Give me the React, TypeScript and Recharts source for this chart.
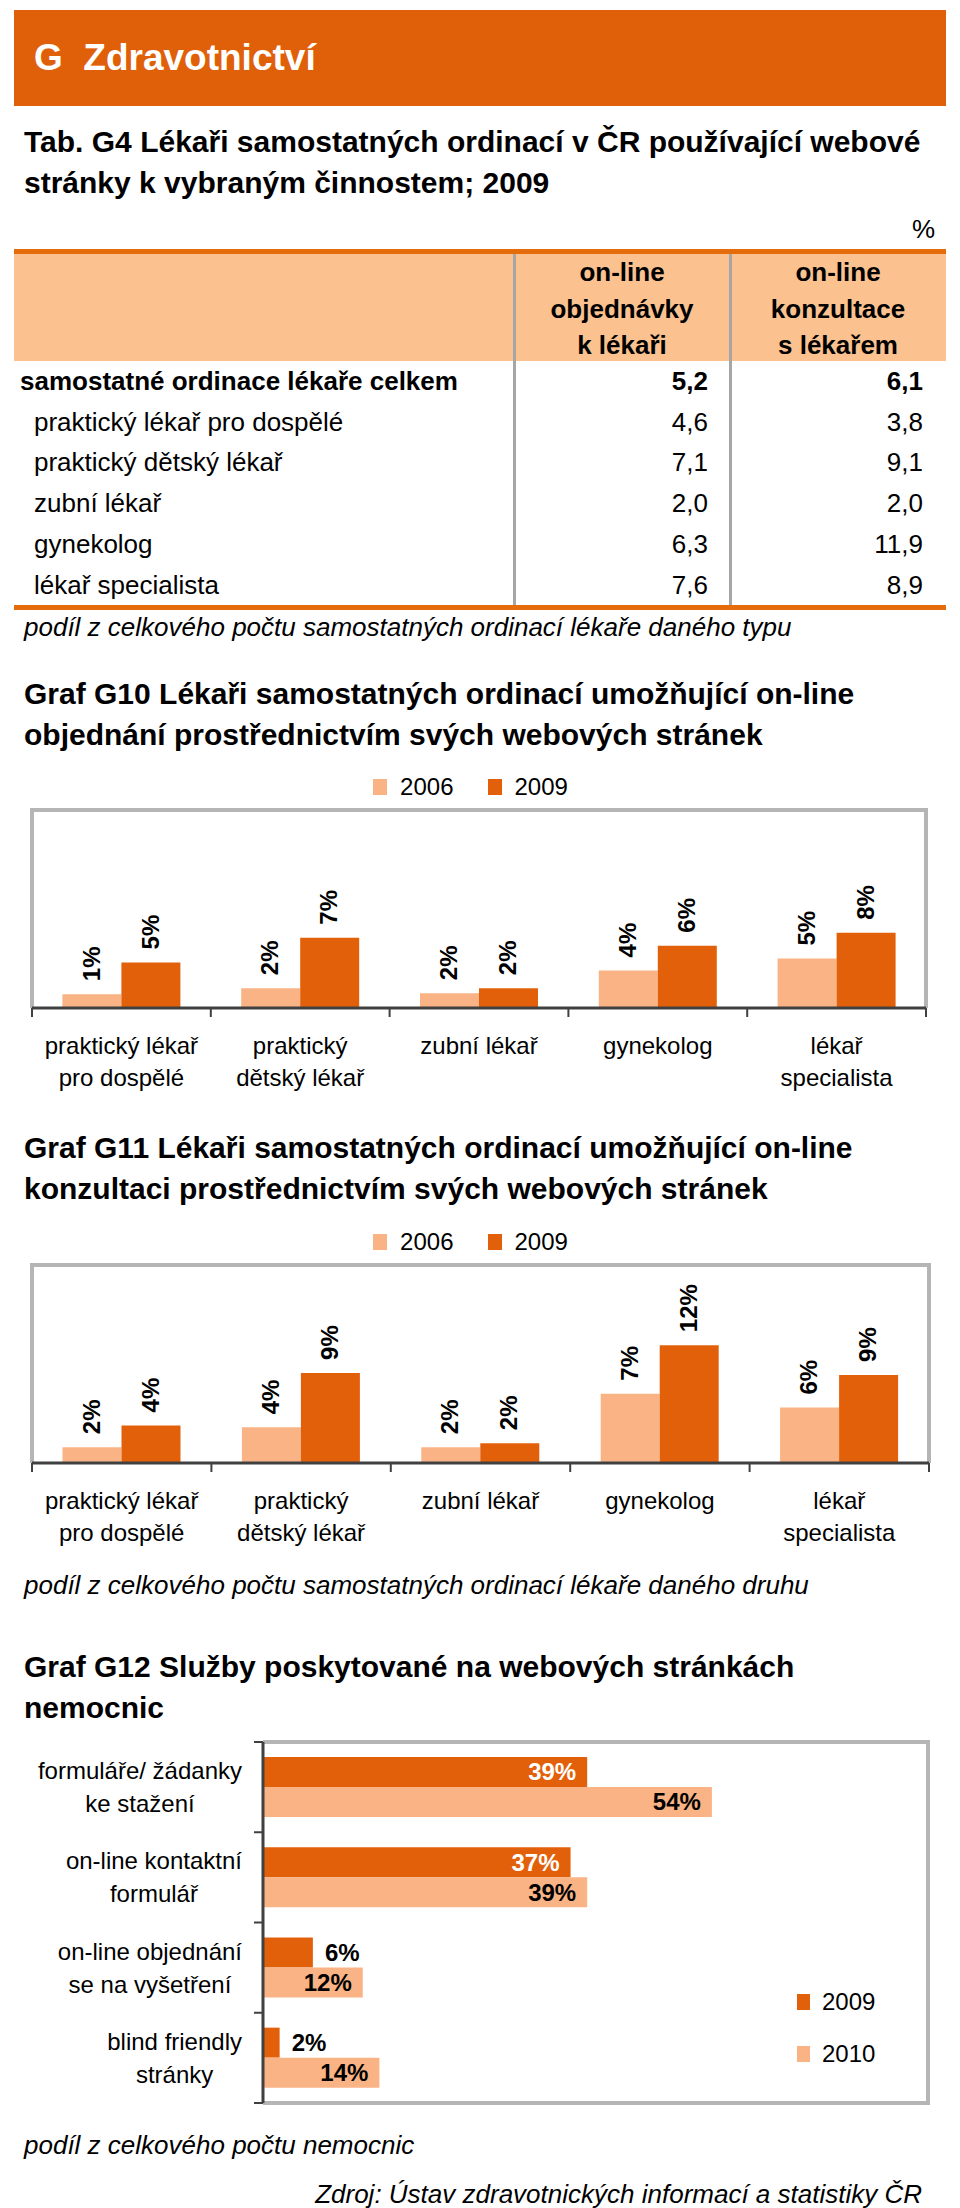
import React from 'react';
import { BarChart, Bar, XAxis, YAxis, LabelList, Legend, ReferenceArea } from 'recharts';

// ---------- data ----------
const tableHeaders = ['on-line\nobjednávky\nk lékaři', 'on-line\nkonzultace\ns lékařem'];
const tableRows = [
  'samostatné ordinace lékaře celkem',
  'praktický lékař pro dospělé',
  'praktický dětský lékař',
  'zubní lékař',
  'gynekolog',
  'lékař specialista',
];
const tableOrders = [5.2, 4.6, 7.1, 2.0, 6.3, 7.6];
const tableConsult = [6.1, 3.8, 9.1, 2.0, 11.9, 8.9];

const doctorCategories = [
  'praktický lékař\npro dospělé',
  'praktický\ndětský lékař',
  'zubní lékař',
  'gynekolog',
  'lékař\nspecialista',
];
const ordering2006 = [1.4, 2.0, 1.5, 3.8, 5.0];
const ordering2009 = [4.6, 7.1, 2.0, 6.3, 7.6];
const consult2006 = [1.6, 3.6, 1.6, 7.0, 5.6];
const consult2009 = [3.8, 9.1, 2.0, 11.9, 8.9];
const doctorSeriesNames = ['2006', '2009'];

const hospitalServices = [
  'formuláře/ žádanky\nke stažení',
  'on-line kontaktní\nformulář',
  'on-line objednání\nse na vyšetření',
  'blind friendly\nstránky',
];
const hospital2009 = [39, 37, 6, 2];
const hospital2010 = [54, 39, 12, 14];
const hospitalSeriesNames = ['2009', '2010'];

// ---------- style ----------
const FONTNAME = '"Liberation Sans", Arial, Helvetica, sans-serif';
const DARK = '#E2600A';
const LIGHT = '#F9B384';
const HEAD_BG = '#E0600A';
const TABLE_ORANGE = '#E46C0A';
const TABLE_PEACH = '#FBC18F';
const GRID_GRAY = '#B5B5B5';
const SEP_GRAY = '#A6A6A6';
const AXIS = '#404040';

let measureCtx: CanvasRenderingContext2D | null = null;
function textWidth(s: string, font: string): number {
  if (!measureCtx && typeof document !== 'undefined') {
    measureCtx = document.createElement('canvas').getContext('2d');
  }
  if (!measureCtx) return s.length * 12;
  measureCtx.font = font;
  return measureCtx.measureText(s).width;
}

const fmt = (v: number) => v.toFixed(1).replace('.', ',');

// ---------- chart helpers ----------
const BorderTopSides = (p: any) => {
  const { x, y, width, height } = p;
  return (
    <path
      d={`M${x},${y + height} L${x},${y} L${x + width},${y} L${x + width},${y + height}`}
      stroke={GRID_GRAY}
      strokeWidth={4}
      fill="none"
    />
  );
};

const BorderNoLeft = (p: any) => {
  const { x, y, width, height } = p;
  return (
    <path
      d={`M${x},${y} L${x + width},${y} L${x + width},${y + height} L${x},${y + height}`}
      stroke={GRID_GRAY}
      strokeWidth={4}
      fill="none"
    />
  );
};

const CatTick = (props: any) => {
  const { x, y, payload, index, band, count } = props;
  const lines = String(payload.value).split('\n');
  const left = x - band / 2;
  return (
    <g>
      <line x1={left} y1={y} x2={left} y2={y + 9} stroke={AXIS} strokeWidth={2} />
      {index === count - 1 && (
        <line x1={x + band / 2} y1={y} x2={x + band / 2} y2={y + 9} stroke={AXIS} strokeWidth={2} />
      )}
      <text x={x} y={y} textAnchor="middle" fontFamily={FONTNAME} fontSize={24} fill="#000">
        {lines.map((l, i) => (
          <tspan key={i} x={x} y={y + 38 + i * 32} dy="0.35em">
            {l}
          </tspan>
        ))}
      </text>
    </g>
  );
};

const RotLabel = (p: any) => {
  const x = p.x ?? p.viewBox?.x;
  const y = p.y ?? p.viewBox?.y;
  const width = p.width ?? p.viewBox?.width;
  const value = Number(p.value);
  const cx = x + width / 2 - 1;
  const cy = y - 13;
  return (
    <text
      x={cx}
      y={cy}
      transform={`rotate(-90, ${cx}, ${cy})`}
      textAnchor="start"
      dy="0.36em"
      fontFamily={FONTNAME}
      fontWeight="bold"
      fontSize={24}
      fill="#000"
    >
      {`${Math.round(value)}%`}
    </text>
  );
};

const HLegend = (props: any) => {
  const items = props.payload || [];
  return (
    <div
      style={{
        display: 'flex',
        justifyContent: 'center',
        alignItems: 'center',
        fontFamily: FONTNAME,
        fontSize: 24,
        color: '#000',
        height: 28,
      }}
    >
      {items.map((it: any, i: number) => (
        <div key={i} style={{ display: 'flex', alignItems: 'center', marginLeft: i ? 34 : 0 }}>
          <span style={{ width: 14, height: 16, background: it.color, display: 'inline-block', marginRight: 13 }} />
          <span>{it.value}</span>
        </div>
      ))}
    </div>
  );
};

const VLegend = (props: any) => {
  const items = props.payload || [];
  return (
    <div style={{ fontFamily: FONTNAME, fontSize: 24, color: '#000' }}>
      {items.map((it: any, i: number) => (
        <div key={i} style={{ display: 'flex', alignItems: 'center', height: 28, marginBottom: i === 0 ? 24 : 0 }}>
          <span style={{ width: 13, height: 16, background: it.color, display: 'inline-block', marginRight: 12 }} />
          <span>{it.value}</span>
        </div>
      ))}
    </div>
  );
};

interface ColumnChartProps {
  top: number;
  plotTop: number;
  plotBottom: number;
  plotRight: number;
  legendY: number;
  v2006: number[];
  v2009: number[];
}

const CHART_W = 960;
const COL_LEFT = 32;

const ColumnChart = ({ top, plotTop, plotBottom, plotRight, legendY, v2006, v2009 }: ColumnChartProps) => {
  const height = plotBottom - top + 95;
  const data = doctorCategories.map((name, i) => ({ name, a: v2006[i], b: v2009[i] }));
  const right = CHART_W - plotRight;
  const band = (CHART_W - COL_LEFT - right) / doctorCategories.length;
  return (
    <div style={{ position: 'absolute', left: 0, top, width: CHART_W, height }}>
      <BarChart
        width={CHART_W}
        height={height}
        data={data}
        margin={{ top: plotTop - top, right, left: COL_LEFT, bottom: 0 }}
        barCategoryGap="17%"
        barGap={0}
      >
        <XAxis
          dataKey="name"
          height={95}
          interval={0}
          tickSize={0}
          tickMargin={0}
          axisLine={{ stroke: AXIS, strokeWidth: 3 }}
          tickLine={false}
          tick={(p: any) => <CatTick {...p} band={band} count={doctorCategories.length} />}
        />
        <YAxis hide domain={[0, 20]} />
        <ReferenceArea y1={0} y2={20} shape={BorderTopSides} ifOverflow="visible" />
        <Legend
          layout="vertical"
          verticalAlign="middle"
          align="center"
          content={HLegend}
          wrapperStyle={{ top: legendY - top - 14, left: 0, width: 941 }}
        />
        <Bar dataKey="a" name={doctorSeriesNames[0]} fill={LIGHT} isAnimationActive={false}>
          <LabelList dataKey="a" content={RotLabel} />
        </Bar>
        <Bar dataKey="b" name={doctorSeriesNames[1]} fill={DARK} isAnimationActive={false}>
          <LabelList dataKey="b" content={RotLabel} />
        </Bar>
      </BarChart>
    </div>
  );
};

// ---------- hospital chart ----------
const H_TOP = 1720;
const H_HEIGHT = 400;
const H_MT = 22;
const H_MB = 17;
const H_AXIS_X = 263;
const H_RIGHT = 928;
const H_MAX = 80;
const H_BAND = (H_HEIGHT - H_MT - H_MB) / hospitalServices.length;

const HospTick = (props: any) => {
  const { x, y, payload, index } = props;
  const lines = String(payload.value).split('\n');
  const font = `24px ${FONTNAME}`;
  const maxW = Math.max(...lines.map((l) => textWidth(l, font)));
  const right = x - 21;
  const cx = right - maxW / 2;
  return (
    <g>
      <line x1={x - 9} y1={y - H_BAND / 2} x2={x} y2={y - H_BAND / 2} stroke={AXIS} strokeWidth={2} />
      {index === hospitalServices.length - 1 && (
        <line x1={x - 9} y1={y + H_BAND / 2} x2={x} y2={y + H_BAND / 2} stroke={AXIS} strokeWidth={2} />
      )}
      <text x={cx} y={y} textAnchor="middle" fontFamily={FONTNAME} fontSize={24} fill="#000">
        {lines.map((l, i) => (
          <tspan key={i} x={cx} y={y + (i - (lines.length - 1) / 2) * 33} dy="0.35em">
            {l}
          </tspan>
        ))}
      </text>
    </g>
  );
};

const Label2009 = (p: any) => {
  const x = p.x ?? p.viewBox?.x;
  const y = p.y ?? p.viewBox?.y;
  const width = p.width ?? p.viewBox?.width;
  const height = p.height ?? p.viewBox?.height;
  const txt = `${p.value}%`;
  const w = textWidth(txt, `bold 24px ${FONTNAME}`);
  const inside = width > w + 24;
  return (
    <text
      x={inside ? x + width - 11 : x + width + 12}
      y={y + height / 2}
      dy="0.35em"
      textAnchor={inside ? 'end' : 'start'}
      fill={inside ? '#fff' : '#000'}
      fontWeight="bold"
      fontSize={24}
      fontFamily={FONTNAME}
    >
      {txt}
    </text>
  );
};

const Label2010 = (p: any) => {
  const x = p.x ?? p.viewBox?.x;
  const y = p.y ?? p.viewBox?.y;
  const width = p.width ?? p.viewBox?.width;
  const height = p.height ?? p.viewBox?.height;
  return (
    <text
      x={x + width - 11}
      y={y + height / 2}
      dy="0.35em"
      textAnchor="end"
      fill="#000"
      fontWeight="bold"
      fontSize={24}
      fontFamily={FONTNAME}
    >
      {`${p.value}%`}
    </text>
  );
};

const HospitalChart = () => {
  const data = hospitalServices.map((name, i) => ({ name, a: hospital2009[i], b: hospital2010[i] }));
  return (
    <div style={{ position: 'absolute', left: 0, top: H_TOP, width: CHART_W, height: H_HEIGHT }}>
      <BarChart
        layout="vertical"
        width={CHART_W}
        height={H_HEIGHT}
        data={data}
        margin={{ top: H_MT, right: CHART_W - H_RIGHT, left: 0, bottom: H_MB }}
        barCategoryGap="16.5%"
        barGap={0}
      >
        <XAxis type="number" hide domain={[0, H_MAX]} />
        <YAxis
          type="category"
          dataKey="name"
          width={H_AXIS_X}
          interval={0}
          tickSize={0}
          tickMargin={0}
          axisLine={{ stroke: AXIS, strokeWidth: 3 }}
          tickLine={false}
          tick={HospTick}
        />
        <ReferenceArea x1={0} x2={H_MAX} shape={BorderNoLeft} ifOverflow="visible" />
        <Legend
          layout="vertical"
          verticalAlign="middle"
          align="center"
          content={VLegend}
          wrapperStyle={{ top: 2002 - H_TOP - 14, left: 797, width: 120 }}
        />
        <Bar dataKey="a" name={hospitalSeriesNames[0]} fill={DARK} isAnimationActive={false}>
          <LabelList dataKey="a" content={Label2009} />
        </Bar>
        <Bar dataKey="b" name={hospitalSeriesNames[1]} fill={LIGHT} isAnimationActive={false}>
          <LabelList dataKey="b" content={Label2010} />
        </Bar>
      </BarChart>
    </div>
  );
};

// ---------- page ----------
const abs = (extra: React.CSSProperties): React.CSSProperties => ({
  position: 'absolute',
  fontFamily: FONTNAME,
  color: '#000',
  whiteSpace: 'nowrap',
  ...extra,
});

const Title = ({ top, lines }: { top: number; lines: string[] }) => (
  <div style={abs({ left: 24, top, fontSize: 30, fontWeight: 'bold', lineHeight: '41px' })}>
    {lines.map((l, i) => (
      <div key={i}>{l}</div>
    ))}
  </div>
);

const T_LEFT = 14;
const T_RIGHT = 946;
const T_SEP1 = 514;
const T_SEP2 = 730;
const ROW_TOP = 361;
const ROW_H = 40.7;

const Table = () => (
  <>
    <div style={abs({ left: T_LEFT, top: 253, width: T_RIGHT - T_LEFT, height: 108, background: TABLE_PEACH })} />
    <div style={abs({ left: T_LEFT, top: 249, width: T_RIGHT - T_LEFT, height: 5, background: TABLE_ORANGE })} />
    <div style={abs({ left: T_LEFT, top: 605, width: T_RIGHT - T_LEFT, height: 5, background: TABLE_ORANGE })} />
    <div style={abs({ left: T_SEP1 - 1, top: 254, width: 3, height: 351, background: SEP_GRAY })} />
    <div style={abs({ left: T_SEP2 - 1, top: 254, width: 3, height: 351, background: SEP_GRAY })} />
    {tableHeaders.map((h, c) => {
      const l = c === 0 ? T_SEP1 : T_SEP2;
      const r = c === 0 ? T_SEP2 : T_RIGHT;
      return (
        <div
          key={c}
          style={abs({ left: l, top: 254, width: r - l, textAlign: 'center', fontSize: 26, fontWeight: 'bold', lineHeight: '36.5px' })}
        >
          {h.split('\n').map((s, i) => (
            <div key={i}>{s}</div>
          ))}
        </div>
      );
    })}
    {tableRows.map((label, i) => {
      const bold = i === 0;
      const top = ROW_TOP + i * ROW_H;
      return (
        <React.Fragment key={i}>
          <div
            style={abs({ left: bold ? 20 : 34, top, height: ROW_H, lineHeight: `${ROW_H}px`, fontSize: 26, fontWeight: bold ? 'bold' : 'normal' })}
          >
            {label}
          </div>
          <div
            style={abs({ right: 960 - 708, top, height: ROW_H, lineHeight: `${ROW_H}px`, fontSize: 26, fontWeight: bold ? 'bold' : 'normal', textAlign: 'right' })}
          >
            {fmt(tableOrders[i])}
          </div>
          <div
            style={abs({ right: 960 - 923, top, height: ROW_H, lineHeight: `${ROW_H}px`, fontSize: 26, fontWeight: bold ? 'bold' : 'normal', textAlign: 'right' })}
          >
            {fmt(tableConsult[i])}
          </div>
        </React.Fragment>
      );
    })}
  </>
);

export default function App() {
  return (
    <div style={{ position: 'absolute', left: 0, top: 0, width: 960, height: 2208, background: '#fff', overflow: 'hidden' }}>
      <div style={abs({ left: 14, top: 10, width: 932, height: 96, background: HEAD_BG })} />
      <div style={abs({ left: 34, top: 10, height: 96, lineHeight: '96px', fontSize: 37, fontWeight: 'bold', color: '#fff' })}>
        G&nbsp; Zdravotnictví
      </div>

      <Title top={121} lines={['Tab. G4 Lékaři samostatných ordinací v ČR používající webové', 'stránky k vybraným činnostem; 2009']} />
      <div style={abs({ right: 960 - 935, top: 212, lineHeight: '34px', fontSize: 26 })}>%</div>
      <Table />
      <div style={abs({ left: 24, top: 610, lineHeight: '34px', fontSize: 26, fontStyle: 'italic' })}>
        podíl z celkového počtu samostatných ordinací lékaře daného typu
      </div>

      <Title top={673} lines={['Graf G10 Lékaři samostatných ordinací umožňující on-line', 'objednání prostřednictvím svých webových stránek']} />
      <ColumnChart top={760} plotTop={810} plotBottom={1008} plotRight={926} legendY={787} v2006={ordering2006} v2009={ordering2009} />

      <Title top={1127} lines={['Graf G11 Lékaři samostatných ordinací umožňující on-line', 'konzultaci prostřednictvím svých webových stránek']} />
      <ColumnChart top={1215} plotTop={1265} plotBottom={1463} plotRight={929} legendY={1242} v2006={consult2006} v2009={consult2009} />
      <div style={abs({ left: 24, top: 1568, lineHeight: '34px', fontSize: 26, fontStyle: 'italic' })}>
        podíl z celkového počtu samostatných ordinací lékaře daného druhu
      </div>

      <Title top={1646} lines={['Graf G12 Služby poskytované na webových stránkách', 'nemocnic']} />
      <HospitalChart />

      <div style={abs({ left: 24, top: 2128, lineHeight: '34px', fontSize: 26, fontStyle: 'italic' })}>
        podíl z celkového počtu nemocnic
      </div>
      <div style={abs({ right: 960 - 922, top: 2177, lineHeight: '34px', fontSize: 26, fontStyle: 'italic' })}>
        Zdroj: Ústav zdravotnických informací a statistiky ČR
      </div>
    </div>
  );
}
